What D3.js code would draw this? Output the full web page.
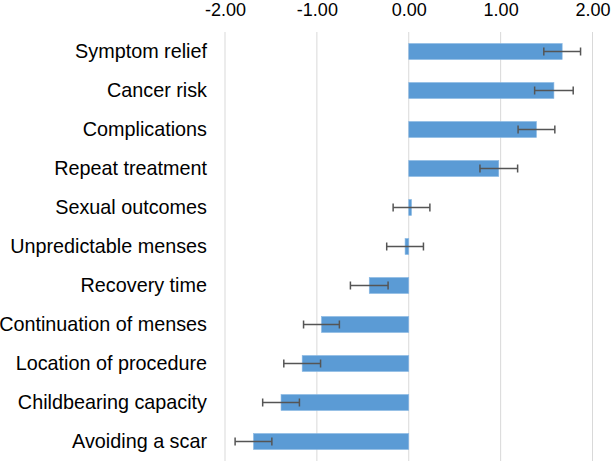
<!DOCTYPE html>
<html>
<head>
<meta charset="utf-8">
<script src="https://cdn.jsdelivr.net/npm/d3@7"></script>
<style>
  body { margin: 0; background: #fff; }
  text { font-family: "Liberation Sans", Arial, sans-serif; fill: #000; }
</style>
</head>
<body>
<svg></svg>
<script>
var svgWidth = 612, svgHeight = 461;
var margin = { top: 32, right: 20, bottom: 0, left: 226 };

var categories = ['Symptom relief', 'Cancer risk', 'Complications', 'Repeat treatment',
  'Sexual outcomes', 'Unpredictable menses', 'Recovery time', 'Continuation of menses',
  'Location of procedure', 'Childbearing capacity', 'Avoiding a scar'];
var values = [1.67, 1.58, 1.39, 0.98, 0.03, -0.04, -0.43, -0.95, -1.16, -1.39, -1.69];
var errors = [0.20, 0.21, 0.20, 0.205, 0.20, 0.20, 0.205, 0.195, 0.20, 0.20, 0.20];
var tickValues = [-2, -1, 0, 1, 2];

var data = categories.map(function (c, i) {
  return { name: c, value: values[i], err: errors[i] };
});

var x = d3.scaleLinear()
    .domain([-2, 2])
    .range([-1, 366.5]);

var y = d3.scaleBand()
    .domain(categories)
    .range([0, 429])
    .paddingInner(0.59)
    .paddingOuter(0.295);

var svg = d3.select('svg')
    .attr('width', svgWidth)
    .attr('height', svgHeight);

var maing = svg.append('g')
    .attr('transform', 'translate(' + margin.left + ',' + margin.top + ')');

// gridlines
maing.selectAll('line.grid')
    .data(tickValues)
    .enter()
    .append('line')
    .attr('class', 'grid')
    .attr('x1', function (d) { return x(d); })
    .attr('x2', function (d) { return x(d); })
    .attr('y1', 0)
    .attr('y2', 429)
    .attr('stroke', '#d9d9d9')
    .attr('stroke-width', 1);

// top axis labels
var xAxis = d3.axisTop(x)
    .tickValues(tickValues)
    .tickSize(0)
    .tickPadding(16.5)
    .tickFormat(function (d) { return d3.format('.2f')(d).replace('\u2212', '-'); });

var ax = maing.append('g')
    .attr('class', 'x axis')
    .call(xAxis);
ax.select('.domain').remove();
ax.selectAll('text')
    .style('font-size', '18px')
    .attr('fill', '#000');

// bars
maing.selectAll('rect.bar')
    .data(data)
    .enter()
    .append('rect')
    .attr('class', 'bar')
    .attr('x', function (d) { return x(Math.min(0, d.value)); })
    .attr('width', function (d) { return Math.abs(x(d.value) - x(0)); })
    .attr('y', function (d) { return y(d.name); })
    .attr('height', y.bandwidth())
    .attr('fill', '#5b9bd5')
    .attr('stroke', '#8cb9e3')
    .attr('stroke-width', 0.6);

// error bars
var eb = maing.selectAll('g.err')
    .data(data)
    .enter()
    .append('g')
    .attr('class', 'err')
    .attr('stroke', '#555555')
    .attr('stroke-width', 1.5);

eb.append('line')
    .attr('x1', function (d) { return x(d.value - d.err); })
    .attr('x2', function (d) { return x(d.value + d.err); })
    .attr('y1', function (d) { return y(d.name) + y.bandwidth() / 2; })
    .attr('y2', function (d) { return y(d.name) + y.bandwidth() / 2; });

[-1, 1].forEach(function (s) {
  eb.append('line')
      .attr('x1', function (d) { return x(d.value + s * d.err); })
      .attr('x2', function (d) { return x(d.value + s * d.err); })
      .attr('y1', function (d) { return y(d.name) + y.bandwidth() / 2 - 4; })
      .attr('y2', function (d) { return y(d.name) + y.bandwidth() / 2 + 4; });
});

// category labels
maing.selectAll('text.cat')
    .data(data)
    .enter()
    .append('text')
    .attr('class', 'cat')
    .attr('x', -19)
    .attr('y', function (d) { return y(d.name) + y.bandwidth() / 2; })
    .attr('dy', '0.33em')
    .attr('text-anchor', 'end')
    .style('font-size', '19.8px')
    .text(function (d) { return d.name; });
</script>
</body>
</html>
